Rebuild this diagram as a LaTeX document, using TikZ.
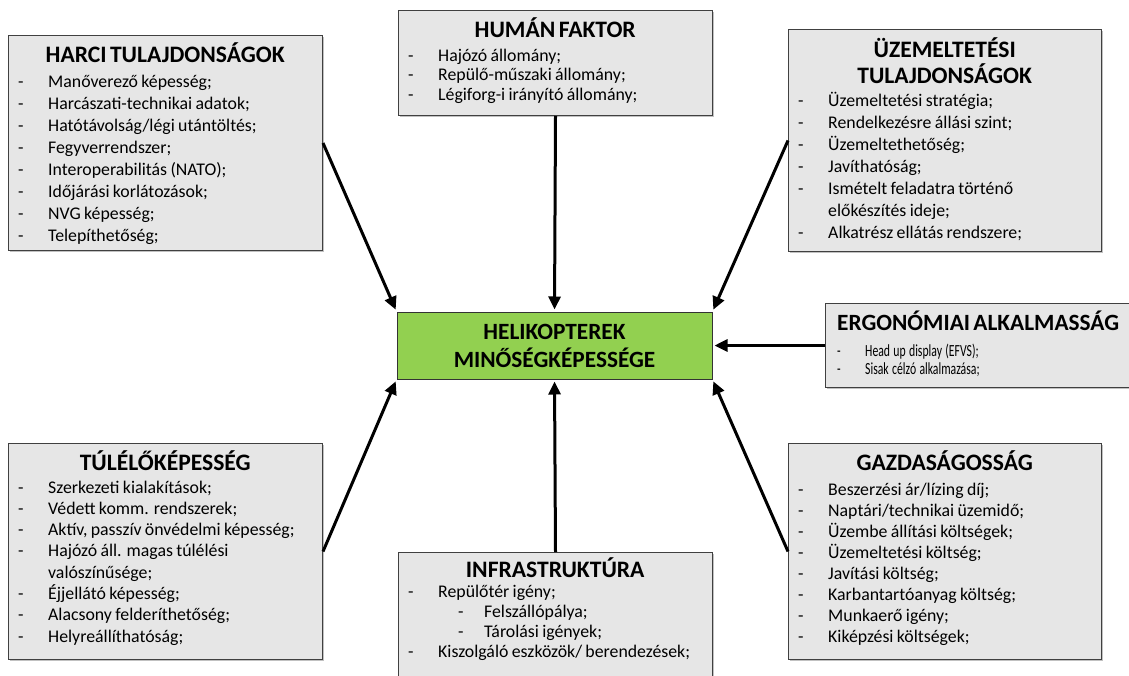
\documentclass[tikz,border=0pt]{standalone}
\usepackage{fontspec}
\setmainfont{Carlito}
\newfontfamily\condfont[FakeStretch=0.69]{Carlito}
\usetikzlibrary{arrows.meta,shadows}
\definecolor{boxfill}{HTML}{E6E6E6}
\definecolor{boxline}{HTML}{404040}
\definecolor{hgreen}{HTML}{92D050}
\lineskiplimit=-100pt
\newcommand{\hd}[1]{{\centering\fontsize{23.6}{26}\selectfont\bfseries #1\par}}
\newcommand{\hdl}[1]{{\raggedright\fontsize{23.3}{26}\selectfont\bfseries #1\par}}
\newcommand{\fsz}[3]{\fontsize{#1}{#2}\selectfont\vspace{#3pt}}
\newcommand{\li}[1]{\noindent\makebox[30pt][l]{-}#1\par}
\newcommand{\lc}[1]{\noindent\hspace*{30pt}#1\par}
\newcommand{\lii}[1]{\noindent\hspace*{50pt}\makebox[26pt][l]{-}#1\par}
\newcommand{\lie}[1]{\noindent\makebox[28pt][l]{-}#1\par}
\tikzset{
  panel/.style={draw=boxline, line width=1pt, fill=boxfill, anchor=north west, inner sep=0pt,
    drop shadow={shadow xshift=1.5pt, shadow yshift=-1.5pt, opacity=0.4, fill=black!60}},
  paneltext/.style={anchor=base west, inner sep=0pt, text width=#1},
  core/.style={draw=black!80, line width=1pt, fill=hgreen, minimum width=315pt, minimum height=67pt,
    inner sep=0pt, align=center, font=\fontsize{23.3}{28}\selectfont\bfseries},
  link/.style={line width=3pt, -{Triangle[length=13pt,width=12pt]}, shorten >=2pt}
}
\begin{document}
\begin{tikzpicture}[x=1pt,y=-1pt]
\useasboundingbox (0,0) rectangle (1129,675);
\fill[white] (0,0) rectangle (1129,675);
\clip (0,0) rectangle (1129,675);

% panels
\node[panel, minimum width=314pt, minimum height=215pt] (harci) at (8,35) {};
\node[panel, minimum width=314pt, minimum height=105pt] (human) at (398,10) {};
\node[panel, minimum width=313pt, minimum height=222pt] (uzem) at (788,29) {};
\node[panel, minimum width=315pt, minimum height=84pt] (ergo) at (825,303) {};
\node[panel, minimum width=314pt, minimum height=216pt] (tulel) at (8,443) {};
\node[panel, minimum width=314pt, minimum height=140pt] (infra) at (398,552) {};
\node[panel, minimum width=313pt, minimum height=216pt] (gazd) at (788,443) {};

\node[core] (core) at (554.5,345.5) {HELIKOPTEREK\\MINŐSÉGKÉPESSÉGE};

% texts
\node[paneltext=294pt] (harcitxt) at (18,62) {\hd{HARCI TULAJDONSÁGOK}\fsz{17.8}{22}{3}%
  \li{Manőverező képesség;}\li{Harcászati-technikai adatok;}\li{Hatótávolság/légi utántöltés;}%
  \li{Fegyverrendszer;}\li{Interoperabilitás (NATO);}\li{Időjárási korlátozások;}%
  \li{NVG képesség;}\li{Telepíthetőség;}};

\node[paneltext=294pt] (humantxt) at (408,37) {\hd{HUMÁN FAKTOR}\fsz{17.8}{19.5}{4.5}%
  \li{Hajózó állomány;}\li{Repülő-műszaki állomány;}\li{Légiforg-i irányító állomány;}};

\node[paneltext=293pt] (uzemtxt) at (798,57) {\hd{ÜZEMELTETÉSI\\TULAJDONSÁGOK}\fsz{17.8}{21.9}{2}%
  \li{Üzemeltetési stratégia;}\li{Rendelkezésre állási szint;}\li{Üzemeltethetőség;}%
  \li{Javíthatóság;}\li{Ismételt feladatra történő}\lc{előkészítés ideje;}%
  \li{Alkatrész ellátás rendszere;}};

\node[paneltext=300pt] (ergotxt) at (837,330.5) {\hdl{ERGONÓMIAI ALKALMASSÁG}\condfont\fsz{17}{18}{8}%
  \lie{Head up display (EFVS);}\lie{Sisak célzó alkalmazása;}};

\node[paneltext=294pt] (tuleltxt) at (18,470) {\hd{TÚLÉLŐKÉPESSÉG}\fsz{17.8}{21.3}{1.7}%
  \li{Szerkezeti kialakítások;}\li{Védett komm. rendszerek;}\li{Aktív, passzív önvédelmi képesség;}%
  \li{Hajózó áll. magas túlélési}\lc{valószínűsége;}\li{Éjjellátó képesség;}%
  \li{Alacsony felderíthetőség;}\li{Helyreállíthatóság;}};

\node[paneltext=294pt] (infratxt) at (408,577) {\hd{INFRASTRUKTÚRA}\fsz{17.8}{20}{0}%
  \li{Repülőtér igény;}\lii{Felszállópálya;}\lii{Tárolási igények;}%
  \li{Kiszolgáló eszközök/ berendezések;}};

\node[paneltext=293pt] (gazdtxt) at (798,470) {\hd{GAZDASÁGOSSÁG}\fsz{17.8}{21}{4}%
  \li{Beszerzési ár/lízing díj;}\li{Naptári/technikai üzemidő;}\li{Üzembe állítási költségek;}%
  \li{Üzemeltetési költség;}\li{Javítási költség;}\li{Karbantartóanyag költség;}%
  \li{Munkaerő igény;}\li{Kiképzési költségek;}};

% connectors
\draw[link] (harci.east) -- (core.north west);
\draw[link] (human.south) -- (core.north);
\draw[link] (uzem.west) -- (core.north east);
\draw[link] (ergo.west) -- (core.east);
\draw[link] (tulel.east) -- (core.south west);
\draw[link] (infra.north) -- (core.south);
\draw[link] (gazd.west) -- (core.south east);
\end{tikzpicture}
\end{document}
